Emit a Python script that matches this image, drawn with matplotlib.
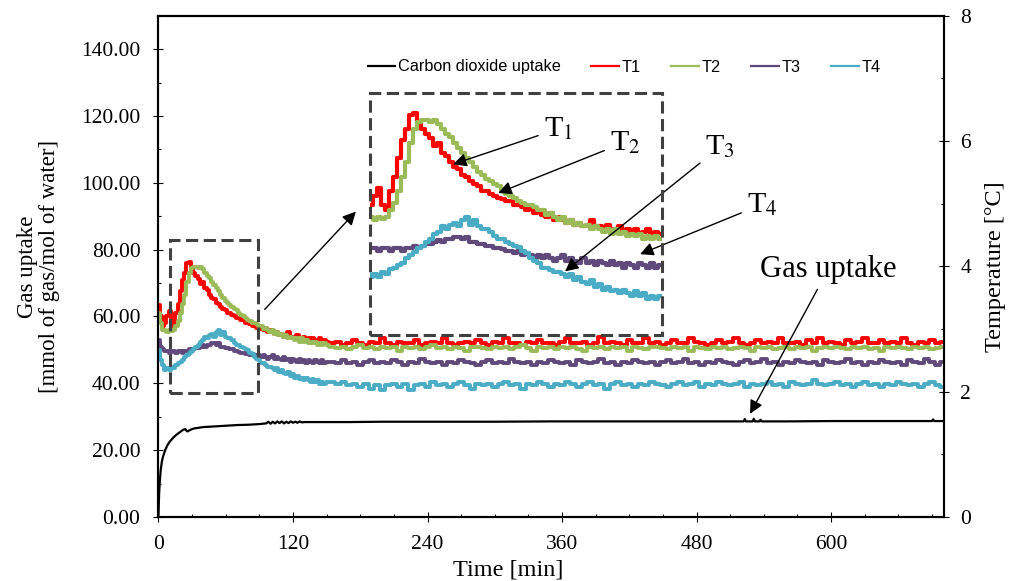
import numpy as np
import matplotlib
matplotlib.use("Agg")
import matplotlib.pyplot as plt
from matplotlib.patches import Rectangle
from matplotlib.ticker import MultipleLocator, FormatStrFormatter

plt.rcParams['font.family'] = ['Liberation Serif', 'DejaVu Serif']
plt.rcParams['mathtext.fontset'] = 'stix'

# gas uptake [mmol of gas/mol of water] vs time [min]
gas_time = [0, 0.3, 0.6, 1, 1.5, 2, 3, 4, 5, 6, 8, 10, 12, 14, 16, 18, 20, 22, 24, 25,
            26, 28, 30, 32, 36, 40, 45, 50, 55, 60, 70, 80, 90, 96, 98, 100, 102, 104, 106, 108,
            110, 112, 114, 116, 118, 120, 122, 124, 126, 128, 130, 140, 150, 170, 200, 250, 300, 350, 400, 450,
            500, 520, 522, 523, 524, 530, 531, 532, 536, 537, 538, 560, 600, 650, 690, 691, 692, 700]
gas_uptake = [0, 4, 7, 9.5, 12, 14, 16.5, 18, 19, 20, 21.5, 22.5, 23.3, 24, 24.6, 25.1, 25.6, 26.1, 26.3, 25.8,
              25.6, 26.0, 26.3, 26.5, 26.7, 26.9, 27.0, 27.1, 27.2, 27.3, 27.5, 27.6, 27.8, 28.0, 28.5, 27.9, 28.5, 28.0, 28.6, 28.1,
              28.6, 28.0, 28.5, 28.1, 28.6, 28.2, 28.5, 28.2, 28.6, 28.3, 28.4, 28.4, 28.4, 28.4, 28.5, 28.5, 28.5, 28.6, 28.6, 28.6,
              28.6, 28.6, 28.6, 29.3, 28.6, 28.6, 29.4, 28.6, 28.6, 29.1, 28.6, 28.6, 28.7, 28.7, 28.7, 29.2, 28.7, 28.7]

# temperature logging: every 2 min up to 150 min, then every 5 min
temp_time = np.concatenate([np.arange(0, 151, 2), np.arange(155, 701, 5)])

t1 = [3.38, 3.20, 3.05, 3.10, 3.20, 3.28, 3.10, 3.05, 3.25, 3.40,
      3.60, 3.78, 3.90, 4.05, 4.07, 3.98, 3.90, 3.85, 3.80, 3.72,
      3.75, 3.65, 3.62, 3.55, 3.50, 3.48, 3.42, 3.40, 3.35, 3.32,
      3.30, 3.25, 3.25, 3.22, 3.20, 3.18, 3.17, 3.15, 3.15, 3.10,
      3.10, 3.08, 3.05, 3.08, 3.02, 3.05, 3.00, 2.98, 3.02, 2.95,
      2.98, 2.95, 2.92, 2.95, 2.90, 2.92, 2.88, 2.90, 2.95, 2.88,
      2.88, 2.85, 2.90, 2.85, 2.85, 2.88, 2.82, 2.85, 2.82, 2.85,
      2.80, 2.82, 2.85, 2.80, 2.82, 2.80,
      2.78, 2.80, 2.75, 2.78, 2.82, 2.78, 2.75, 2.80, 2.78, 2.85,
      2.78, 2.75, 2.80, 2.78, 2.78, 2.82, 2.75, 2.78, 2.80, 2.78,
      2.85, 2.78, 2.75, 2.78, 2.80, 2.78, 2.82, 2.78, 2.75, 2.80,
      2.78, 2.85, 2.78, 2.78, 2.75, 2.80, 2.78, 2.82, 2.78, 2.78,
      2.75, 2.80, 2.85, 2.78, 2.78, 2.80, 2.75, 2.78, 2.88, 2.78,
      2.80, 2.78, 2.75, 2.82, 2.78, 2.78, 2.85, 2.78, 2.80, 2.75,
      2.78, 2.82, 2.78, 2.78, 2.85, 2.80, 2.78, 2.75, 2.78, 2.82,
      2.78, 2.80, 2.85, 2.78, 2.75, 2.78, 2.82, 2.78, 2.80, 2.78,
      2.85, 2.78, 2.78, 2.80, 2.75, 2.82, 2.78, 2.85, 2.78, 2.80,
      2.78, 2.75, 2.82, 2.78, 2.80, 2.85, 2.78, 2.78, 2.82, 2.78,
      2.80, 2.78, 2.85, 2.78, 2.75, 2.80, 2.78, 2.82, 2.78, 2.80]

t2 = [3.25, 3.10, 2.98, 2.98, 2.95, 2.98, 2.96, 2.98, 3.05, 3.12,
      3.25, 3.40, 3.55, 3.75, 3.90, 3.97, 3.99, 3.99, 3.97, 3.99,
      3.95, 3.90, 3.85, 3.82, 3.75, 3.70, 3.65, 3.60, 3.55, 3.50,
      3.45, 3.42, 3.38, 3.35, 3.32, 3.30, 3.25, 3.22, 3.20, 3.18,
      3.15, 3.12, 3.10, 3.10, 3.08, 3.05, 3.05, 3.00, 3.02, 2.98,
      2.95, 2.98, 2.92, 2.95, 2.90, 2.92, 2.88, 2.90, 2.85, 2.88,
      2.85, 2.82, 2.85, 2.80, 2.85, 2.80, 2.82, 2.78, 2.80, 2.78,
      2.80, 2.75, 2.78, 2.75, 2.78, 2.75,
      2.72, 2.70, 2.72, 2.68, 2.72, 2.75, 2.70, 2.72, 2.68, 2.72,
      2.70, 2.72, 2.65, 2.72, 2.70, 2.72, 2.68, 2.72, 2.75, 2.70,
      2.72, 2.68, 2.72, 2.70, 2.65, 2.72, 2.72, 2.70, 2.68, 2.72,
      2.70, 2.72, 2.68, 2.72, 2.75, 2.70, 2.65, 2.72, 2.70, 2.72,
      2.68, 2.72, 2.70, 2.72, 2.68, 2.65, 2.72, 2.70, 2.72, 2.68,
      2.72, 2.70, 2.72, 2.65, 2.72, 2.70, 2.68, 2.72, 2.72, 2.70,
      2.68, 2.72, 2.70, 2.72, 2.65, 2.72, 2.70, 2.68, 2.72, 2.70,
      2.72, 2.68, 2.70, 2.72, 2.70, 2.65, 2.72, 2.70, 2.72, 2.68,
      2.70, 2.72, 2.68, 2.72, 2.70, 2.72, 2.65, 2.70, 2.72, 2.70,
      2.72, 2.70, 2.68, 2.72, 2.70, 2.72, 2.68, 2.70, 2.65, 2.72,
      2.70, 2.72, 2.70, 2.68, 2.72, 2.70, 2.72, 2.68, 2.70, 2.72]

t3 = [2.82, 2.72, 2.68, 2.65, 2.65, 2.62, 2.65, 2.65, 2.62, 2.65,
      2.65, 2.62, 2.65, 2.65, 2.68, 2.65, 2.68, 2.70, 2.70, 2.72,
      2.74, 2.72, 2.75, 2.75, 2.77, 2.77, 2.75, 2.77, 2.72, 2.72,
      2.70, 2.70, 2.68, 2.68, 2.65, 2.65, 2.64, 2.62, 2.62, 2.60,
      2.62, 2.58, 2.60, 2.58, 2.55, 2.58, 2.55, 2.58, 2.55, 2.52,
      2.55, 2.58, 2.52, 2.55, 2.52, 2.50, 2.55, 2.50, 2.52, 2.48,
      2.52, 2.50, 2.48, 2.52, 2.48, 2.50, 2.45, 2.50, 2.48, 2.45,
      2.50, 2.48, 2.45, 2.50, 2.45, 2.48,
      2.48, 2.45, 2.50, 2.45, 2.48, 2.42, 2.48, 2.50, 2.45, 2.48,
      2.45, 2.50, 2.48, 2.42, 2.48, 2.45, 2.52, 2.48, 2.45, 2.48,
      2.42, 2.48, 2.45, 2.50, 2.48, 2.45, 2.42, 2.48, 2.50, 2.45,
      2.48, 2.45, 2.52, 2.48, 2.45, 2.48, 2.42, 2.48, 2.45, 2.50,
      2.48, 2.45, 2.48, 2.42, 2.50, 2.48, 2.45, 2.48, 2.52, 2.45,
      2.48, 2.42, 2.48, 2.45, 2.50, 2.48, 2.45, 2.48, 2.42, 2.48,
      2.50, 2.45, 2.48, 2.52, 2.45, 2.48, 2.42, 2.48, 2.45, 2.50,
      2.48, 2.45, 2.42, 2.48, 2.50, 2.45, 2.48, 2.52, 2.45, 2.48,
      2.42, 2.48, 2.45, 2.50, 2.48, 2.45, 2.48, 2.42, 2.50, 2.48,
      2.45, 2.48, 2.52, 2.45, 2.48, 2.42, 2.48, 2.45, 2.50, 2.48,
      2.45, 2.48, 2.42, 2.50, 2.48, 2.45, 2.52, 2.48, 2.42, 2.48]

t4 = [2.66, 2.50, 2.42, 2.35, 2.38, 2.35, 2.40, 2.38, 2.43, 2.45,
      2.48, 2.50, 2.55, 2.58, 2.61, 2.65, 2.68, 2.72, 2.75, 2.80,
      2.82, 2.88, 2.85, 2.90, 2.92, 2.88, 2.95, 2.98, 2.90, 2.95,
      2.88, 2.85, 2.85, 2.82, 2.78, 2.75, 2.75, 2.72, 2.70, 2.68,
      2.66, 2.62, 2.60, 2.55, 2.52, 2.50, 2.45, 2.45, 2.42, 2.40,
      2.40, 2.38, 2.35, 2.38, 2.32, 2.35, 2.30, 2.28, 2.32, 2.25,
      2.28, 2.22, 2.25, 2.20, 2.22, 2.18, 2.22, 2.18, 2.15, 2.20,
      2.15, 2.18, 2.12, 2.15, 2.12, 2.15,
      2.15, 2.12, 2.15, 2.10, 2.12, 2.08, 2.12, 2.05, 2.10, 2.02,
      2.10, 2.12, 2.08, 2.12, 2.02, 2.10, 2.12, 2.08, 2.15, 2.10,
      2.12, 2.08, 2.12, 2.15, 2.10, 2.05, 2.12, 2.10, 2.12, 2.08,
      2.12, 2.15, 2.10, 2.12, 2.05, 2.12, 2.10, 2.15, 2.12, 2.08,
      2.12, 2.10, 2.15, 2.12, 2.08, 2.12, 2.15, 2.10, 2.12, 2.05,
      2.12, 2.15, 2.10, 2.12, 2.08, 2.12, 2.10, 2.15, 2.12, 2.10,
      2.08, 2.12, 2.15, 2.10, 2.12, 2.15, 2.08, 2.12, 2.10, 2.15,
      2.12, 2.10, 2.12, 2.15, 2.08, 2.12, 2.10, 2.12, 2.15, 2.10,
      2.12, 2.08, 2.15, 2.12, 2.10, 2.12, 2.18, 2.12, 2.10, 2.12,
      2.15, 2.10, 2.12, 2.08, 2.12, 2.15, 2.10, 2.12, 2.08, 2.12,
      2.10, 2.15, 2.12, 2.10, 2.12, 2.08, 2.12, 2.15, 2.10, 2.08]

temp_labels = ['T1', 'T2', 'T3', 'T4']
temp_colors = ['#ff0000', '#9bbb59', '#604a7b', '#4bacc6']
temps = [t1, t2, t3, t4]

# zoom window and where the magnified copy sits (time, gas uptake units)
zoom_box = (10.1, 37.1, 78.8, 45.7)
inset_box = (188.6, 54.6, 260.3, 72.4)
inset_xlim = (5.5, 151)
inset_ylim = (1.75, 4.28)

fig = plt.figure(figsize=(10.1, 5.81), dpi=100)
ax = fig.add_axes([0.1569, 0.1102, 0.7781, 0.8628])
ax2 = ax.twinx()

gas_line, = ax.plot(gas_time, gas_uptake, color='black', lw=1.6, label='Carbon dioxide uptake')
temp_lines = []
for y, c, lab in zip(temps, temp_colors, temp_labels):
    l, = ax2.plot(temp_time, y, color=c, lw=2.8, drawstyle='steps-mid', label=lab)
    temp_lines.append(l)

ax.set_xlim(0, 701)
ax.set_ylim(0, 150)
ax2.set_ylim(0, 8)
ax.xaxis.set_major_locator(MultipleLocator(120))
ax.xaxis.set_minor_locator(MultipleLocator(30))
ax.yaxis.set_major_locator(MultipleLocator(20))
ax.yaxis.set_minor_locator(MultipleLocator(10))
ax.yaxis.set_major_formatter(FormatStrFormatter('%.2f'))
ax2.yaxis.set_major_locator(MultipleLocator(2))
ax2.yaxis.set_minor_locator(MultipleLocator(1))

for a in (ax, ax2):
    a.tick_params(which='major', direction='inout', length=7, width=0.8, labelsize=15.5, pad=9.5)
    a.tick_params(which='minor', direction='in', length=2.5, width=0.8)
    for s in a.spines.values():
        s.set_linewidth(1.5)
ax2.tick_params(which='major', pad=8)

ax.set_xlabel('Time [min]', fontsize=17.5)
ax.xaxis.set_label_coords(0.445, -0.085)
ax.set_ylabel('Gas uptake\n[mmol of gas/mol of water]', fontsize=16.5, linespacing=1.1)
ax.yaxis.set_label_coords(-0.125, 0.5)
ax2.set_ylabel('Temperature [\u00b0C]', fontsize=17.5)
ax2.yaxis.set_label_coords(1.052, 0.5)

# dashed boxes: zoom window and its magnified copy
dash = dict(fill=False, ec='#404040', lw=2.2, ls=(0, (4, 1.8)), transform=ax.transData)
ax2.add_patch(Rectangle(zoom_box[:2], zoom_box[2], zoom_box[3], zorder=5, **dash))

ins = ax2.inset_axes(list(inset_box), transform=ax.transData)
ins.set_facecolor('white')
for y, c in zip(temps, temp_colors):
    ins.plot(temp_time, y, color=c, lw=3.0, drawstyle='steps-mid')
ins.set_xlim(inset_xlim)
ins.set_ylim(inset_ylim)
ins.set_xticks([])
ins.set_yticks([])
for s in ins.spines.values():
    s.set_visible(False)
ax2.add_patch(Rectangle(inset_box[:2], inset_box[2], inset_box[3], zorder=6, **dash))

arrow = dict(arrowstyle='-|>', color='black', lw=1.0, mutation_scale=20, shrinkA=2, shrinkB=0)
ax2.annotate('', xy=(176.1, 91.4), xytext=(93.1, 61.5), xycoords=ax.transData,
             textcoords=ax.transData, arrowprops=arrow)

# curve labels inside the magnified view
tags = [('T$_1$', (47.0, 3.53), (99.3, 3.90)),
        ('T$_2$', (69.5, 3.23), (132.7, 3.76)),
        ('T$_3$', (102.8, 2.41), (180.0, 3.71)),
        ('T$_4$', (140.2, 2.59), (201.0, 3.11))]
for txt, tip, pos in tags:
    ins.annotate(txt, xy=tip, xytext=pos, fontsize=21.5, ha='center', va='center',
                 arrowprops=arrow, annotation_clip=False)

ax2.annotate('Gas uptake', xy=(527.7, 30.9), xytext=(597.3, 74.0), xycoords=ax.transData,
             textcoords=ax.transData, fontsize=22, ha='center', va='center', arrowprops=arrow)

handles = [gas_line] + temp_lines
leg = fig.legend(handles, [h.get_label() for h in handles], loc='center left',
                 bbox_to_anchor=(0.364, 1 - 67 / 581), ncol=5, frameon=False,
                 prop={'family': 'Liberation Sans', 'size': 11.7}, handlelength=1.7,
                 handletextpad=0.15, columnspacing=1.9, borderpad=0, borderaxespad=0)
for h in leg.legend_handles:
    h.set_linewidth(1.6)

plt.savefig('out.png', dpi=100)
